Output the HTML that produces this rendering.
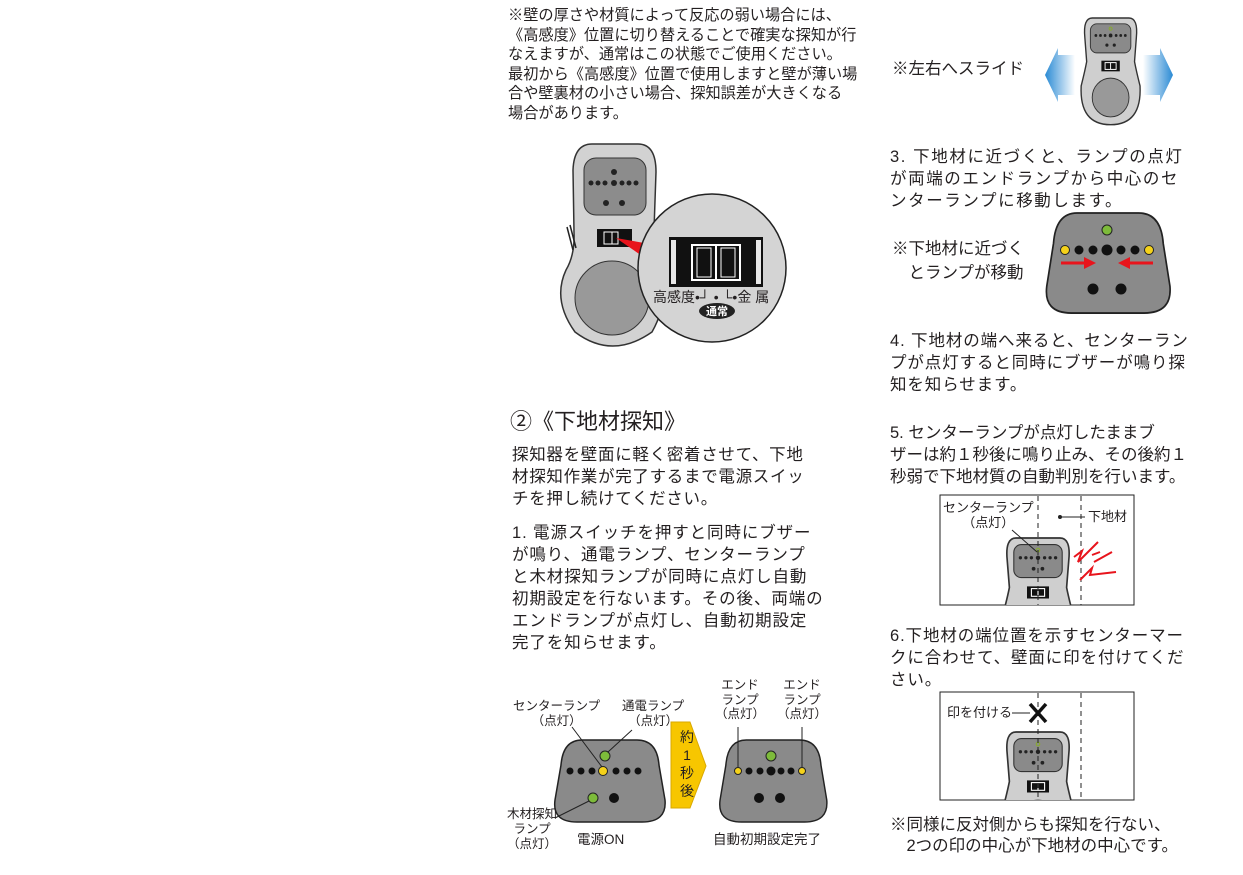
<!DOCTYPE html>
<html><head><meta charset="utf-8">
<style>
body{margin:0;background:#fff;width:1243px;height:875px;overflow:hidden;position:relative;font-family:"Liberation Sans","Noto Sans CJK JP",sans-serif;color:#231f20}
.t{position:absolute;white-space:nowrap;font-size:15.2px;line-height:19.6px}
.m{position:absolute;white-space:nowrap;font-size:16.5px;line-height:22px}
.s{position:absolute;white-space:nowrap;font-size:12.5px;line-height:15px;text-align:center}
svg{position:absolute;left:0;top:0}
</style></head><body>
<svg width="1243" height="875" viewBox="0 0 1243 875">
<defs>
<g id="dev">
<path d="M10,0 Q0,0 2,20 L4,45 Q2,55 -2,70 Q-4,110 30,110 Q64,110 62,70 Q58,55 56,45 L58,20 Q60,0 50,0 Z" fill="#cfcfcf" stroke="#333" stroke-width="1.5"/>
<rect x="8" y="6" width="44" height="30" rx="7" fill="#8a8a8a" stroke="#333"/>
<rect x="20" y="44" width="20" height="11" fill="#111"/>
<rect x="24" y="46" width="12" height="7" fill="none" stroke="#fff"/>
<line x1="30" y1="46" x2="30" y2="53" stroke="#fff"/>
<g fill="#222"><circle cx="14" cy="18" r="1.5"/><circle cx="19" cy="18" r="1.5"/><circle cx="24" cy="18" r="1.5"/><circle cx="30" cy="18" r="2"/><circle cx="36" cy="18" r="1.5"/><circle cx="41" cy="18" r="1.5"/><circle cx="46" cy="18" r="1.5"/><circle cx="26" cy="28" r="1.7"/><circle cx="34" cy="28" r="1.7"/></g>
<circle cx="30" cy="11" r="1.6" fill="none" stroke="#8a3"/>
<circle cx="30" cy="82" r="20" fill="#999" stroke="#333"/>
</g>
<g id="pan">
<path d="M25,0 L80,0 Q100,0 102,25 L108,60 Q110,82 85,82 L20,82 Q-5,82 -2,60 L4,25 Q6,0 25,0 Z" fill="#8a8a8a" stroke="#222" stroke-width="1.5"/>
</g>
<clipPath id="c5"><rect x="940" y="495" width="194" height="110"/></clipPath>
<clipPath id="c6"><rect x="940" y="692" width="194" height="108"/></clipPath>
<linearGradient id="bl" x1="1" x2="0"><stop offset="0" stop-color="#fff"/><stop offset="1" stop-color="#2a8ad4"/></linearGradient>
<linearGradient id="br" x1="0" x2="1"><stop offset="0" stop-color="#fff"/><stop offset="1" stop-color="#2a8ad4"/></linearGradient>
</defs>

<!-- big device -->
<path d="M592,144 Q574,144 573,170 L574,232 Q575,255 566,270 Q552,300 575,332 Q612,360 652,332 Q670,300 660,268 Q652,252 654,230 L656,172 Q656,144 638,144 Z" fill="#d2d2d2" stroke="#333" stroke-width="1.5"/>
<rect x="584" y="158" width="62" height="57" rx="12" fill="#8c8c8c" stroke="#333"/>
<g fill="#222"><circle cx="614" cy="172" r="3"/><circle cx="591" cy="183" r="2.5"/><circle cx="598" cy="183" r="2.5"/><circle cx="605" cy="183" r="2.5"/><circle cx="614" cy="183" r="3"/><circle cx="622" cy="183" r="2.5"/><circle cx="629" cy="183" r="2.5"/><circle cx="636" cy="183" r="2.5"/><circle cx="606" cy="203" r="3"/><circle cx="622" cy="203" r="3"/></g>
<path d="M570,225 L576,248 M567,227 L573,250" stroke="#222" stroke-width="1.5"/>
<circle cx="612" cy="298" r="37" fill="#999" stroke="#333"/>
<rect x="597" y="229" width="35" height="18" fill="#111"/>
<rect x="604" y="232" width="14" height="12" fill="none" stroke="#fff"/><line x1="612" y1="232" x2="612" y2="244" stroke="#fff"/>
<path d="M616,238 L650,244 L645,258 Z" fill="#e8141c"/>
<circle cx="712" cy="268" r="74" fill="#d4d4d4" stroke="#222" stroke-width="1.5"/>
<rect x="669" y="237" width="94" height="50" fill="#111"/>
<rect x="671" y="240" width="5" height="44" fill="#e8e8e8"/><rect x="756" y="240" width="5" height="44" fill="#e8e8e8"/>
<rect x="692" y="245" width="48" height="35" fill="none" stroke="#fff" stroke-width="2"/>
<line x1="716" y1="245" x2="716" y2="280" stroke="#fff" stroke-width="2"/>
<rect x="697" y="248" width="14" height="29" fill="none" stroke="#fff"/><rect x="721" y="248" width="14" height="29" fill="none" stroke="#fff"/>
<ellipse cx="717" cy="311" rx="18" ry="8" fill="#222"/>

<!-- top right device with arrows -->
<path d="M1075,55 L1058,55 L1058,48 L1045,75 L1058,102 L1058,95 L1075,95 Z" fill="url(#bl)"/>
<path d="M1143,55 L1160,55 L1160,48 L1173,75 L1160,102 L1160,95 L1143,95 Z" fill="url(#br)"/>
<use href="#dev" transform="translate(1083,18) scale(0.92,0.97)"/>

<!-- panel 3 -->
<use href="#pan" transform="translate(1049,213) scale(1.12,1.22)"/>
<circle cx="1107" cy="230" r="5" fill="#7dbb3a" stroke="#222"/>
<g stroke="#222"><circle cx="1065" cy="250" r="4.5" fill="#f5d21a"/><circle cx="1149" cy="250" r="4.5" fill="#f5d21a"/></g>
<g fill="#111"><circle cx="1079" cy="250" r="4.5"/><circle cx="1093" cy="250" r="4.5"/><circle cx="1107" cy="250" r="5.5"/><circle cx="1121" cy="250" r="4.5"/><circle cx="1135" cy="250" r="4.5"/><circle cx="1093" cy="289" r="5.5"/><circle cx="1121" cy="289" r="5.5"/></g>
<path d="M1061,263 L1088,263" stroke="#e8141c" stroke-width="3"/><path d="M1096,263 L1084,257 L1084,269 Z" fill="#e8141c"/>
<path d="M1153,263 L1126,263" stroke="#e8141c" stroke-width="3"/><path d="M1118,263 L1130,257 L1130,269 Z" fill="#e8141c"/>

<!-- box 5 -->
<rect x="940" y="495" width="194" height="110" fill="#fff" stroke="#222"/>
<g clip-path="url(#c5)"><use href="#dev" transform="translate(1005,538) scale(1.1,1.1)"/></g>
<line x1="1038" y1="496" x2="1038" y2="605" stroke="#222" stroke-dasharray="5,4"/>
<line x1="1081" y1="496" x2="1081" y2="605" stroke="#222" stroke-dasharray="5,4"/>
<line x1="1060" y1="517" x2="1085" y2="517" stroke="#222"/><circle cx="1060" cy="517" r="2" fill="#222"/>
<line x1="1012" y1="530" x2="1037" y2="552" stroke="#222"/>
<path d="M1074,557 L1082,551 L1078,562 L1098,542 M1080,580 L1092,568 L1090,575 L1116,572 M1092,555 L1100,552 M1094,562 L1112,552" stroke="#e8141c" stroke-width="2" fill="none"/>

<!-- box 6 -->
<rect x="940" y="692" width="194" height="108" fill="#fff" stroke="#222"/>
<g clip-path="url(#c6)"><use href="#dev" transform="translate(1005,732) scale(1.1,1.1)"/></g>
<line x1="1038" y1="693" x2="1038" y2="800" stroke="#222" stroke-dasharray="5,4"/>
<line x1="1081" y1="693" x2="1081" y2="800" stroke="#222" stroke-dasharray="5,4"/>
<line x1="1012" y1="713" x2="1030" y2="713" stroke="#222"/>
<path d="M1030,704 L1046,722 M1046,704 L1030,722" stroke="#111" stroke-width="3.5"/>

<!-- bottom panels -->
<use href="#pan" transform="translate(557,740)"/>
<circle cx="605" cy="756" r="5" fill="#7dbb3a" stroke="#222"/>
<g fill="#111"><circle cx="570" cy="771" r="3.5"/><circle cx="581" cy="771" r="3.5"/><circle cx="592" cy="771" r="3.5"/><circle cx="616" cy="771" r="3.5"/><circle cx="627" cy="771" r="3.5"/><circle cx="638" cy="771" r="3.5"/><circle cx="614" cy="798" r="5"/></g>
<circle cx="603" cy="771" r="4.5" fill="#f5d21a" stroke="#222"/>
<circle cx="593" cy="798" r="5" fill="#7dbb3a" stroke="#222"/>
<path d="M572,727 L602,767 M632,730 L608,752 M555,818 L589,801" stroke="#222" fill="none"/>
<path d="M671,722 L690,722 L706,766 L690,808 L671,808 Z" fill="#f7c600" stroke="#d9a800"/>
<use href="#pan" transform="translate(722,740) scale(0.97,1)"/>
<circle cx="771" cy="756" r="5" fill="#7dbb3a" stroke="#222"/>
<g stroke="#222"><circle cx="738" cy="771" r="3.5" fill="#f5d21a"/><circle cx="802" cy="771" r="3.5" fill="#f5d21a"/></g>
<g fill="#111"><circle cx="749" cy="771" r="3.5"/><circle cx="760" cy="771" r="3.5"/><circle cx="771" cy="771" r="4.5"/><circle cx="781" cy="771" r="3.5"/><circle cx="791" cy="771" r="3.5"/><circle cx="759" cy="798" r="5"/><circle cx="780" cy="798" r="5"/></g>
<path d="M738,727 L738,767 M802,727 L802,767" stroke="#222"/>
</svg>

<div class="t" style="left:508px;top:6px">※壁の厚さや材質によって反応の弱い場合には、<br>《高感度》位置に切り替えることで確実な探知が行<br>なえますが、通常はこの状態でご使用ください。<br>最初から《高感度》位置で使用しますと壁が薄い場<br>合や壁裏材の小さい場合、探知誤差が大きくなる<br>場合があります。</div>
<div class="t" style="left:653px;top:288px;font-size:14px">高感度<span>•┘ • └•</span>金 属</div>
<div class="t" style="left:706px;top:303px;font-size:11px;color:#fff;font-weight:bold">通常</div>

<div class="m" style="left:510px;top:408px;font-size:22px;line-height:28px">②《下地材探知》</div>
<div class="m" style="left:512px;top:444px;letter-spacing:0.7px">探知器を壁面に軽く密着させて、下地<br>材探知作業が完了するまで電源スイッ<br>チを押し続けてください。</div>
<div class="m" style="left:512px;top:522px;letter-spacing:0.9px">1. 電源スイッチを押すと同時にブザー<br>が鳴り、通電ランプ、センターランプ<br>と木材探知ランプが同時に点灯し自動<br>初期設定を行ないます。その後、両端の<br>エンドランプが点灯し、自動初期設定<br>完了を知らせます。</div>

<div class="s" style="left:513px;top:699px">センターランプ<br>（点灯）</div>
<div class="s" style="left:622px;top:699px">通電ランプ<br>（点灯）</div>
<div class="s" style="left:507px;top:807px">木材探知<br>ランプ<br>（点灯）</div>
<div class="s" style="left:577px;top:832px;font-size:13.5px">電源ON</div>
<div class="s" style="left:715px;top:678px;line-height:14.5px">エンド<br>ランプ<br>（点灯）</div>
<div class="s" style="left:777px;top:678px;line-height:14.5px">エンド<br>ランプ<br>（点灯）</div>
<div class="s" style="left:677px;top:728px;font-size:14px;line-height:18px;width:20px;white-space:normal">約<br>1<br>秒<br>後</div>
<div class="s" style="left:713px;top:832px;font-size:13.5px">自動初期設定完了</div>

<div class="m" style="left:892px;top:58px">※左右へスライド</div>
<div class="m" style="left:890px;top:146px;letter-spacing:1.6px">3. 下地材に近づくと、ランプの点灯<br>が両端のエンドランプから中心のセ<br>ンターランプに移動します。</div>
<div class="m" style="left:892px;top:237px;line-height:24px">※下地材に近づく<br>　とランプが移動</div>
<div class="m" style="left:890px;top:330px;letter-spacing:0.9px">4. 下地材の端へ来ると、センターラン<br>プが点灯すると同時にブザーが鳴り探<br>知を知らせます。</div>
<div class="m" style="left:890px;top:422px">5. センターランプが点灯したままブ<br>ザーは約１秒後に鳴り止み、その後約１<br>秒弱で下地材質の自動判別を行います。</div>
<div class="s" style="left:943px;top:500px;font-size:13px">センターランプ<br>（点灯）</div>
<div class="s" style="left:1088px;top:509px;font-size:13px">下地材</div>
<div class="m" style="left:890px;top:625px;letter-spacing:0.9px">6.下地材の端位置を示すセンターマー<br>クに合わせて、壁面に印を付けてくだ<br>さい。</div>
<div class="s" style="left:947px;top:705px;font-size:13px">印を付ける</div>
<div class="m" style="left:890px;top:815px;line-height:21px">※同様に反対側からも探知を行ない、<br>　2つの印の中心が下地材の中心です。</div>
</body></html>
